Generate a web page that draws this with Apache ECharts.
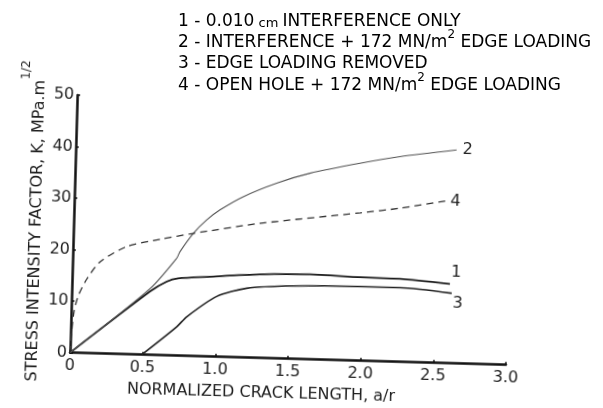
<!DOCTYPE html>
<html>
<head>
<meta charset="utf-8">
<script src="https://cdn.jsdelivr.net/npm/echarts@6/dist/echarts.min.js"></script>
<style>
  html, body { margin: 0; padding: 0; background: #fff; overflow: hidden; }
  #plot, #key { position: absolute; left: 0; top: 0; width: 603px; height: 408px; }
  /* the plotted sheet sits slightly skewed, turned about the origin of the axes */
  #plot { transform: rotate(1.6deg); transform-origin: 70px 352.7px; }
  #key { pointer-events: none; }
</style>
</head>
<body>
<div id="plot"></div>
<div id="key"></div>
<script>
// Stress intensity factor K (MPa.m^1/2) against normalized crack length a/r
const xTicks = [0, 0.5, 1.0, 1.5, 2.0, 2.5, 3.0];
const yTicks = [0, 10, 20, 30, 40, 50];

const curveTags = ['1', '2', '3', '4'];
const curveNames = [
  '0.010 cm INTERFERENCE ONLY',
  'INTERFERENCE + 172 MN/m2 EDGE LOADING',
  'EDGE LOADING REMOVED',
  'OPEN HOLE + 172 MN/m2 EDGE LOADING'
];

// 1 - interference only
const aR1 = [0, 0.538, 0.651, 0.73, 0.948, 1.29, 1.635, 1.98, 2.255, 2.6];
const k1  = [0, 12.3, 14.3, 15.0, 15.5, 16.2, 16.5, 16.2, 16.1, 15.4];
// 2 - interference + edge loading
const aR2 = [0, 0.54, 0.716, 0.737, 0.825, 0.915, 1.004, 1.162, 1.389, 1.616, 1.958, 2.232, 2.62];
const k2  = [0, 12.9, 18.9, 20.2, 23.8, 26.5, 28.5, 31.2, 34.0, 36.1, 38.3, 39.8, 41.4];
// 3 - edge loading removed
const aR3 = [0.494, 0.729, 0.796, 0.998, 1.203, 1.523, 1.982, 2.257, 2.614];
const k3  = [0, 5.6, 7.6, 11.7, 13.45, 14.15, 14.4, 14.4, 13.6];
// 4 - open hole + edge loading
const aR4 = [0, 0.008, 0.02, 0.045, 0.1, 0.19, 0.37, 0.6, 0.825, 1.28, 1.97, 2.24, 2.56];
const k4  = [0, 4, 8, 11, 14.3, 17.8, 20.9, 22.5, 23.8, 26.1, 28.7, 29.8, 31.5];

const FONT = 'DejaVu Sans';
const INK = '#1e1e1e';

function pairs(xs, ys) { return xs.map((x, i) => [x, ys[i]]); }

function curve(idx, xs, ys, style, labelOffset) {
  return {
    type: 'line',
    name: curveNames[idx],
    data: pairs(xs, ys),
    smooth: 0.25,
    showSymbol: false,
    symbol: 'none',
    lineStyle: style,
    endLabel: {
      show: true,
      formatter: () => curveTags[idx],
      fontFamily: FONT,
      fontSize: 16,
      color: INK,
      offset: labelOffset
    },
    silent: true,
    z: 3
  };
}

const plot = echarts.init(document.getElementById('plot'), null, { renderer: 'canvas' });
plot.setOption({
  animation: false,
  backgroundColor: 'transparent',
  grid: { left: 70, top: 95, width: 436, height: 257.7, containLabel: false },
  xAxis: {
    type: 'value', min: 0, max: 3, interval: 0.5,
    axisLine: { show: true, lineStyle: { color: '#111', width: 2.5 } },
    axisTick: { show: true, inside: true, length: 3, lineStyle: { color: '#111', width: 1.5 } },
    splitLine: { show: false },
    axisLabel: {
      margin: 5, fontFamily: FONT, fontSize: 16, color: INK,
      formatter: v => { const t = xTicks.find(q => Math.abs(q - v) < 1e-9); return t === 0 ? '0' : t.toFixed(1); }
    }
  },
  yAxis: {
    type: 'value', min: 0, max: 50, interval: 10,
    axisLine: { show: true, lineStyle: { color: '#111', width: 2.5 } },
    axisTick: { show: true, inside: true, length: 3, lineStyle: { color: '#111', width: 1.5 } },
    splitLine: { show: false },
    axisLabel: {
      margin: 3, fontFamily: FONT, fontSize: 16, color: INK,
      formatter: v => String(yTicks.find(q => q === v))
    }
  },
  graphic: [
    {
      type: 'text', x: 262, y: 388, silent: true,
      style: {
        text: 'NORMALIZED CRACK LENGTH, a/r',
        fontFamily: FONT, fontSize: 16, fill: INK,
        align: 'center', verticalAlign: 'middle'
      }
    },
    {
      type: 'text', x: 27, y: 222, rotation: Math.PI / 2, silent: true,
      style: {
        text: '{a|STRESS INTENSITY FACTOR, K, MPa.m}{s|1/2}',
        align: 'center', verticalAlign: 'middle',
        rich: {
          a: { fontFamily: FONT, fontSize: 16, fill: INK, color: INK, lineHeight: 28, verticalAlign: 'bottom' },
          s: { fontFamily: FONT, fontSize: 12, fill: INK, color: INK, lineHeight: 28, verticalAlign: 'top' }
        }
      }
    }
  ],
  series: [
    curve(0, aR1, k1, { color: '#1a1a1a', width: 1.8 }, [-7, -11]),
    curve(1, aR2, k2, { color: '#555', width: 1.1 }, [-2, 0]),
    curve(2, aR3, k3, { color: '#222', width: 1.6 }, [-7, 10]),
    curve(3, aR4, k4, { color: '#333', width: 1.3, type: [7, 5] }, [-4, 0])
  ]
});

// numbered key above the plot
const key = echarts.init(document.getElementById('key'), null, { renderer: 'canvas' });
const keyRows = [19, 40, 61, 83];
const richKey = {
  t: { fontFamily: FONT, fontSize: 17, color: INK, lineHeight: 22, verticalAlign: 'bottom' },
  c: { fontFamily: FONT, fontSize: 13, color: INK, lineHeight: 22, verticalAlign: 'bottom' },
  s: { fontFamily: FONT, fontSize: 12, color: INK, lineHeight: 22, verticalAlign: 'top' }
};
function keyText(i) {
  const n = curveNames[i]
    .replace(/ cm /, '}{c| cm }{t|')
    .replace(/m2/g, 'm}{s|2}{t|');
  return '{t|' + curveTags[i] + ' - ' + n + '}';
}
key.setOption({
  animation: false,
  graphic: keyRows.map((y, i) => ({
    type: 'text', x: 178, y: y, silent: true,
    style: { text: keyText(i), rich: richKey, verticalAlign: 'middle', align: 'left' }
  }))
});
</script>
</body>
</html>
